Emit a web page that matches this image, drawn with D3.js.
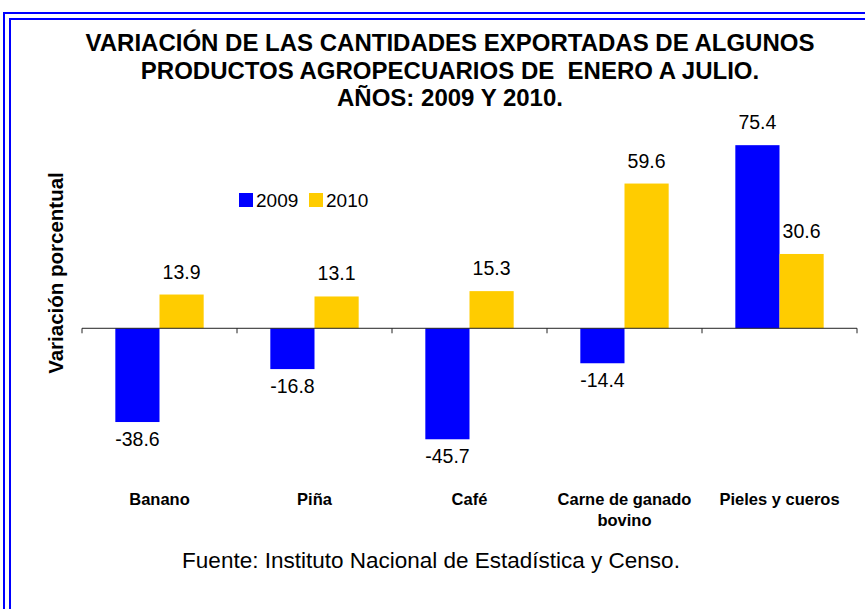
<!DOCTYPE html>
<html>
<head>
<meta charset="utf-8">
<script src="https://cdn.jsdelivr.net/npm/d3@7"></script>
<style>
  body { margin: 0; background: #fff; }
  svg { display: block; font-family: Arial, 'Liberation Sans', sans-serif; }
</style>
</head>
<body>
<div id="chart"></div>
<script>
// data
const categories = ['Banano', 'Piña', 'Café', 'Carne de ganado bovino', 'Pieles y cueros'];
const categoryLines = [['Banano'], ['Piña'], ['Café'], ['Carne de ganado', 'bovino'], ['Pieles y cueros']];
const years = ['2009', '2010'];
const values2009 = [-38.6, -16.8, -45.7, -14.4, 75.4];
const values2010 = [13.9, 13.1, 15.3, 59.6, 30.6];
const titleLines = [
  'VARIACIÓN DE LAS CANTIDADES EXPORTADAS DE ALGUNOS',
  'PRODUCTOS AGROPECUARIOS DE  ENERO A JULIO.',
  'AÑOS: 2009 Y 2010.',
];
const yTitle = 'Variación porcentual';
const source = 'Fuente: Instituto Nacional de Estadística y Censo.';

const width = 865;
const height = 609;
const colors = { 2009: '#0000FF', 2010: '#FFCC00' };

const svg = d3.select('#chart').append('svg')
  .attr('width', width)
  .attr('height', height);

svg.append('rect').attr('width', width).attr('height', height).attr('fill', '#fff');

// double blue frame (runs off right and bottom)
svg.append('rect')
  .attr('x', 4).attr('y', 13).attr('width', 1000).attr('height', 1000)
  .attr('fill', 'none').attr('stroke', '#0000FF').attr('stroke-width', 2);
svg.append('rect')
  .attr('x', 10).attr('y', 19).attr('width', 1000).attr('height', 1000)
  .attr('fill', 'none').attr('stroke', '#0000FF').attr('stroke-width', 2);

// title
svg.append('g').selectAll('text')
  .data(titleLines)
  .enter().append('text')
  .attr('x', 450)
  .attr('y', (d, i) => 51 + i * 27.5)
  .attr('text-anchor', 'middle')
  .style('font-size', '24px')
  .style('font-weight', 'bold')
  .style('white-space', 'pre')
  .text(d => d);

const x0 = d3.scaleBand()
  .domain(categories)
  .range([82, 857])
  .paddingInner(0.43)
  .paddingOuter(0.215);

const x1 = d3.scaleBand()
  .domain(years)
  .range([0, x0.bandwidth()]);

const y = d3.scaleLinear()
  .domain([-60, 80])
  .range([474, 134]);

const rows = categories.map((c, i) => ({
  cat: c,
  vals: [
    { year: '2009', value: values2009[i] },
    { year: '2010', value: values2010[i] },
  ],
}));

const groups = svg.append('g').selectAll('g')
  .data(rows)
  .enter().append('g')
  .attr('transform', d => `translate(${x0(d.cat)},0)`);

groups.selectAll('rect')
  .data(d => d.vals)
  .enter().append('rect')
  .attr('x', d => x1(d.year))
  .attr('width', x1.bandwidth())
  .attr('y', d => y(Math.max(0, d.value)))
  .attr('height', d => Math.abs(y(d.value) - y(0)))
  .attr('fill', d => colors[d.year]);

groups.selectAll('text.val')
  .data(d => d.vals)
  .enter().append('text')
  .attr('class', 'val')
  .attr('x', d => x1(d.year) + x1.bandwidth() / 2)
  .attr('y', d => (d.value >= 0 ? y(d.value) - 16 : y(d.value) + 24))
  .attr('text-anchor', 'middle')
  .style('font-size', '19.5px')
  .text(d => d.value.toFixed(1));

// category axis
const x0Start = x0.range()[0];
const ticks = d3.range(categories.length + 1).map(i => x0Start + i * x0.step());
const axis = svg.append('g').attr('class', 'axis');
axis.append('line')
  .attr('x1', x0.range()[0]).attr('x2', x0.range()[1])
  .attr('y1', y(0)).attr('y2', y(0))
  .attr('stroke', '#222').attr('stroke-width', 1);
axis.selectAll('line.tick')
  .data(ticks)
  .enter().append('line')
  .attr('class', 'tick')
  .attr('x1', d => d).attr('x2', d => d)
  .attr('y1', y(0)).attr('y2', y(0) + 5)
  .attr('stroke', '#222').attr('stroke-width', 1);

// category labels
svg.append('g').selectAll('text')
  .data(categories.map((c, i) => ({ cat: c, lines: categoryLines[i] })))
  .enter().append('text')
  .attr('x', d => x0(d.cat) + x0.bandwidth() / 2)
  .attr('y', 505)
  .attr('text-anchor', 'middle')
  .style('font-size', '16.5px')
  .style('font-weight', 'bold')
  .selectAll('tspan')
  .data(d => d.lines)
  .enter().append('tspan')
  .attr('x', function () { return d3.select(this.parentNode).attr('x'); })
  .attr('dy', (d, i) => (i === 0 ? 0 : 21))
  .text(d => d);

// y axis title
svg.append('text')
  .attr('transform', 'translate(63,273) rotate(-90)')
  .attr('text-anchor', 'middle')
  .style('font-size', '20.5px')
  .style('font-weight', 'bold')
  .text(yTitle);

// legend
const legend = svg.append('g').selectAll('g')
  .data(years)
  .enter().append('g')
  .attr('transform', (d, i) => `translate(${239 + i * 70},193)`);
legend.append('rect')
  .attr('width', 14).attr('height', 14)
  .attr('fill', d => colors[d]);
legend.append('text')
  .attr('x', 17).attr('y', 13.5)
  .style('font-size', '19px')
  .text(d => d);

// source
svg.append('text')
  .attr('x', 431)
  .attr('y', 568)
  .attr('text-anchor', 'middle')
  .style('font-size', '22.5px')
  .text(source);
</script>
</body>
</html>
